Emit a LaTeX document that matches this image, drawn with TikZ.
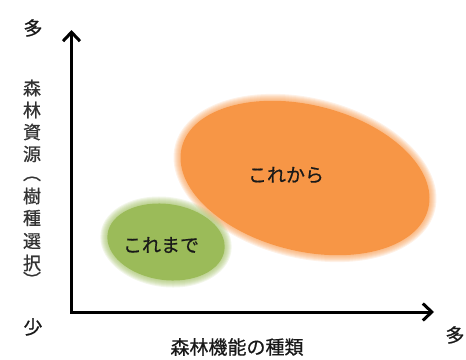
\documentclass[tikz,border=0pt]{standalone}
\usepackage{fontspec}
\newfontfamily\jp[FakeBold=0.7]{Noto Sans CJK JP}
\usetikzlibrary{arrows.meta}
\definecolor{orng}{HTML}{F79646}
\definecolor{grn}{HTML}{9BBB59}
\begin{document}
\begin{tikzpicture}[x=1pt,y=-1pt,
  axis/.style={line width=3pt,-{Straight Barb[length=9pt,width=17pt,line width=3pt]}},
  lbl/.style={font=\jp\fontsize{19}{21}\selectfont,inner sep=0pt,text=black!90},
  vch/.style={font=\jp\fontsize{18}{20}\selectfont,inner sep=0pt,text=black!80}]
\useasboundingbox (0,0) rectangle (466,359);
% blobs (soft edges)
\foreach \i in {1,...,7}{
  \fill[orng,opacity=0.13,rotate around={-14:(305,178)}] (305,178) ellipse ({127+\i} and {73+\i});
}
\fill[orng,rotate around={-14:(305,178)}] (305,178) ellipse (127 and 73);
\foreach \i in {1,...,7}{
  \fill[grn,opacity=0.13,rotate around={-8:(166,242)}] (166,242) ellipse ({59+\i} and {38+\i});
}
\fill[grn,rotate around={-8:(166,242)}] (166,242) ellipse (59 and 38);
\node[lbl] (future) at (286,175) {これから};
\node[lbl] (past) at (161,245) {これまで};
% axes
\coordinate (o) at (71.5,312);
\coordinate (ytip) at (71.5,30);
\coordinate (xtip) at (434,312);
\draw[axis,line cap=rect] (o) -- (ytip);
\draw[axis] (o) -- (xtip);
\node[lbl] (ymax) at (33,28) {多};
\node[lbl] (ymin) at (33,327) {少};
\node[lbl] (xmax) at (455,335) {多};
\node[lbl] (xlab) at (237,347) {森林機能の種類};
% vertical label
\node[vch] (c1) at (32,88) {森};
\node[vch] (c2) at (32,110) {林};
\node[vch] (c3) at (32,132) {資};
\node[vch] (c4) at (32,154) {源};
\node[vch] (c5) at (32,173) {\rotatebox{-90}{（}};
\node[vch] (c6) at (32,196) {樹};
\node[vch] (c7) at (32,218) {種};
\node[vch] (c8) at (32,241) {選};
\node[vch] (c9) at (32,263) {択};
\node[vch] (c10) at (32,280) {\rotatebox{-90}{）}};
\end{tikzpicture}
\end{document}
